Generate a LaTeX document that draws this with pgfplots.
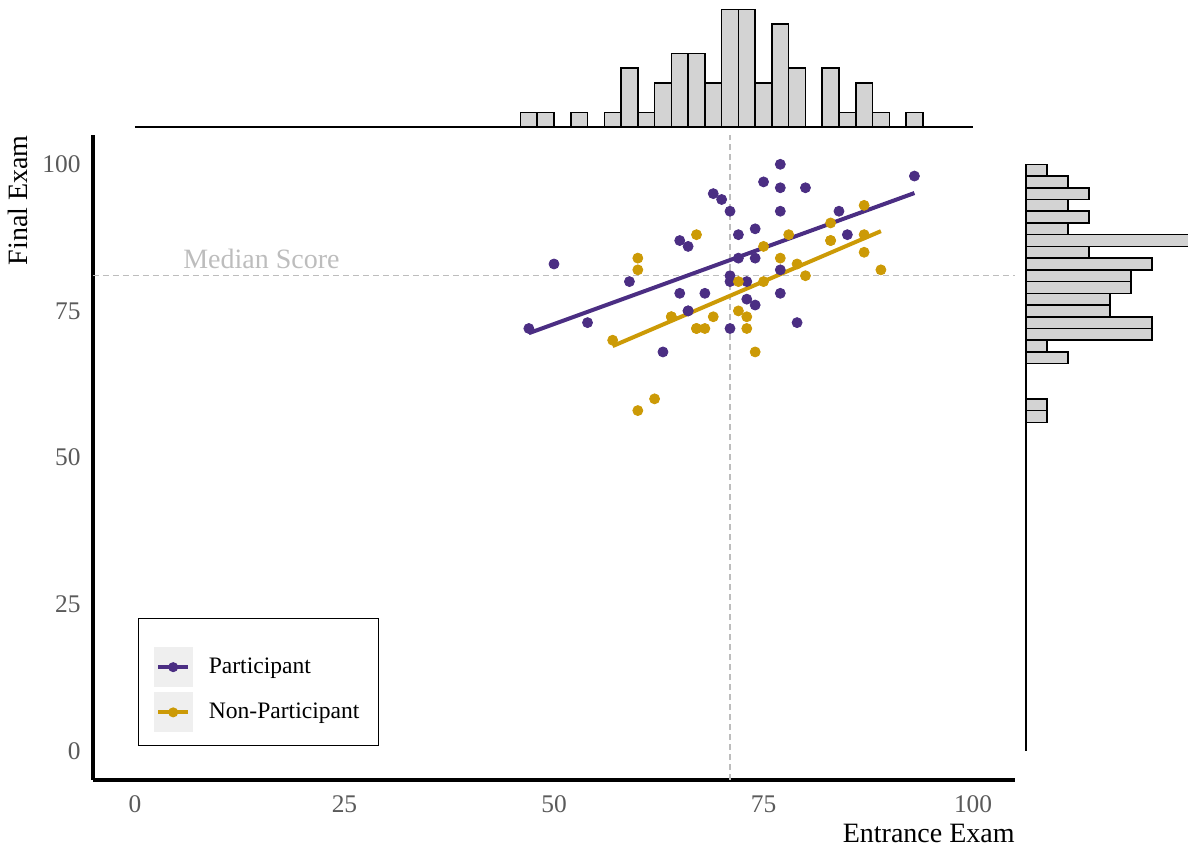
\documentclass[border=0pt]{standalone}
\usepackage{fontspec}
\setmainfont{Liberation Serif}
\usepackage{pgfplots}
\usepackage{pgfplotstable}
\pgfplotsset{compat=1.18}
\definecolor{partcol}{HTML}{4B2E83}
\definecolor{noncol}{HTML}{CC9A06}
\definecolor{histfill}{HTML}{D3D3D3}
\definecolor{medcol}{HTML}{BDBDBD}
\definecolor{tickcol}{HTML}{5A5A5A}
\definecolor{keybg}{HTML}{EFEFEF}

\pgfplotstableread{
x y
69 95
70 94
71 92
72 88
65 87
66 86
50 83
59 80
71 81
71 80
77 100
75 97
77 96
80 96
93 98
77 92
84 92
74 89
85 88
72 84
74 84
77 82
73 80
47 72
54 73
65 78
68 78
66 75
66 75
71 72
63 68
77 78
73 77
74 76
79 73
}\partdata

\pgfplotstableread{
x y
67 88
60 84
60 82
72 80
87 93
83 90
78 88
87 88
75 86
83 87
83 87
87 85
77 84
79 83
89 82
80 81
75 80
57 70
64 74
64 74
69 74
67 72
67 72
68 72
62 60
60 58
72 75
73 74
73 72
74 68
}\nondata

\begin{document}
\begin{tikzpicture}
% ---------------- main scatter ----------------
\begin{axis}[
  at={(0pt,0pt)}, anchor=south west,
  scale only axis, width=461pt, height=322.5pt,
  xmin=-5, xmax=105, ymin=-5, ymax=105,
  axis x line=bottom, axis y line=left,
  axis line style={line width=2pt, -},
  xtick={0,25,50,75,100}, ytick={0,25,50,75,100},
  major tick length=0pt, tick style={draw=none},
  /pgf/number format/assume math mode=true,
  ticklabel style={font=\fontsize{12.7}{14}\selectfont, text=tickcol},
  xticklabel style={anchor=north, inner sep=0pt, yshift=-7.5pt},
  yticklabel style={anchor=east, inner sep=0pt, xshift=-6pt},
  xlabel={Entrance Exam}, ylabel={Final Exam},
  label style={font=\fontsize{14}{16}\selectfont},
  xlabel style={at={(rel axis cs:1,0)}, anchor=north east, inner sep=0pt, yshift=-22pt},
  ylabel style={at={(rel axis cs:-0.0705,1)}, anchor=south east, inner sep=0pt},
  legend style={at={(rel axis cs:0.0488,0.2512)}, anchor=north west,
    draw=black, line width=0.6pt, inner xsep=7.5pt, inner ysep=6.5pt,
    font=\fontsize{11.8}{13}\selectfont, row sep=2.5pt},
  legend cell align=left,
]
\addplot[medcol, line width=0.75pt, dash pattern=on 3pt off 2pt, forget plot] coordinates {(71,-5) (71,105)};
\addplot[medcol, line width=0.75pt, dash pattern=on 3pt off 2pt, forget plot] coordinates {(-5,81) (105,81)};
\node[anchor=base west, inner sep=0pt, text=medcol, font=\fontsize{14}{16}\selectfont] at (axis cs:5.73,82.2) {Median Score};

\addplot[only marks, mark=*, mark size=2.5pt, color=partcol, forget plot] table[x=x,y=y] {\partdata};
\addplot[only marks, mark=*, mark size=2.5pt, color=noncol, forget plot] table[x=x,y=y] {\nondata};
\addplot[partcol, line width=2pt, forget plot] coordinates {(47,71.2) (93,95.1)};
\addplot[noncol, line width=2pt, forget plot] coordinates {(57,69.0) (89,88.6)};

\addlegendimage{legend image code/.code={
  \path (0pt,17.5pt) (25pt,0pt);
  \fill[keybg] (0pt,-9.75pt) rectangle (19pt,9.75pt);
  \draw[partcol, line width=2pt] (2pt,0pt) -- (17pt,0pt);
  \fill[partcol] (9.5pt,0pt) circle (2.2pt);
}}
\addlegendentry{Participant}
\addlegendimage{legend image code/.code={
  \path (25pt,0pt);
  \fill[keybg] (0pt,-9.75pt) rectangle (19pt,9.75pt);
  \draw[noncol, line width=2pt] (2pt,0pt) -- (17pt,0pt);
  \fill[noncol] (9.5pt,0pt) circle (2.2pt);
}}
\addlegendentry{Non-Participant}
\end{axis}

% ---------------- top histogram ----------------
\begin{axis}[
  at={(0pt,325.75pt)}, anchor=south west,
  scale only axis, width=461pt, height=64.25pt,
  xmin=-5, xmax=105, ymin=-0.1, ymax=8.64,
  hide axis,
]
\addplot[ybar, bar width=2, fill=histfill, draw=black, line width=0.75pt] coordinates {
(47,1) (49,1) (53,1) (57,1) (59,4) (61,1) (63,3) (65,5) (67,5) (69,3)
(71,8) (73,8) (75,3) (77,7) (79,4) (83,4) (85,1) (87,3) (89,1) (93,1)};
\addplot[black, line width=0.75pt] coordinates {(0,0) (100,0)};
\end{axis}

% ---------------- right histogram ----------------
\begin{axis}[
  at={(465.45pt,0pt)}, anchor=south west,
  scale only axis, width=82.05pt, height=322.5pt,
  xmin=-0.1, xmax=7.714, ymin=-5, ymax=105,
  hide axis,
]
\addplot[xbar, bar width=2, fill=histfill, draw=black, line width=0.75pt] coordinates {
(1,99) (2,97) (3,95) (2,93) (3,91) (2,89) (8,87) (3,85) (6,83) (5,81)
(5,79) (4,77) (4,75) (6,73) (6,71) (1,69) (2,67) (1,59) (1,57)};
\addplot[black, line width=0.75pt] coordinates {(0,0) (0,100)};
\end{axis}

\pgfresetboundingbox
\path (-46.5pt,-35pt) rectangle (547.5pt,390pt);
\end{tikzpicture}
\end{document}
